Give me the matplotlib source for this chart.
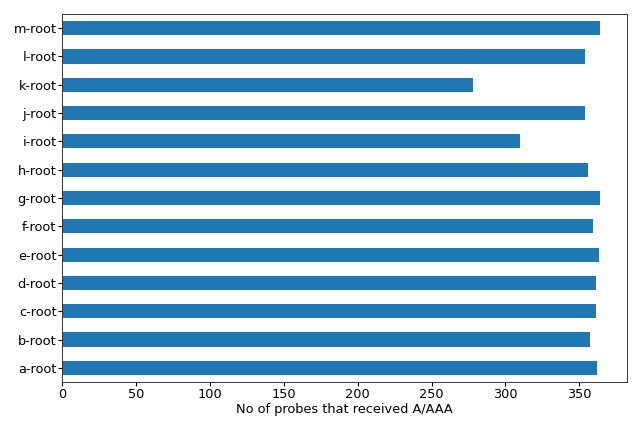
import matplotlib
matplotlib.use("Agg")
import matplotlib.pyplot as plt

roots = ["a-root", "b-root", "c-root", "d-root", "e-root", "f-root", "g-root",
         "h-root", "i-root", "j-root", "k-root", "l-root", "m-root"]
probes = [362, 357, 361, 361, 363, 359, 364, 356, 310, 354, 278, 354, 364]

fs = 9.3
fig = plt.figure(figsize=(6.4, 4.26), dpi=100)
ax = fig.add_axes([62/640, 1-382/426, (627-62)/640, (382-14)/426])
ax.barh(range(len(roots)), probes, height=0.5, color="#1f77b4")
ax.set_yticks(range(len(roots)))
ax.set_yticklabels(roots)
ax.set_ylim(-0.5, len(roots) - 0.5)
ax.set_xlim(0, max(probes) * 1.05)
ax.tick_params(axis="y", labelsize=fs, length=3, pad=1)
ax.tick_params(axis="x", labelsize=fs, length=3, pad=1.5)
for s in ax.spines.values():
    s.set_linewidth(0.7)
    s.set_edgecolor("#333333")
ax.set_xlabel("No of probes that received A/AAA", fontsize=fs, labelpad=1)
fig.savefig("out.png", dpi=100)
